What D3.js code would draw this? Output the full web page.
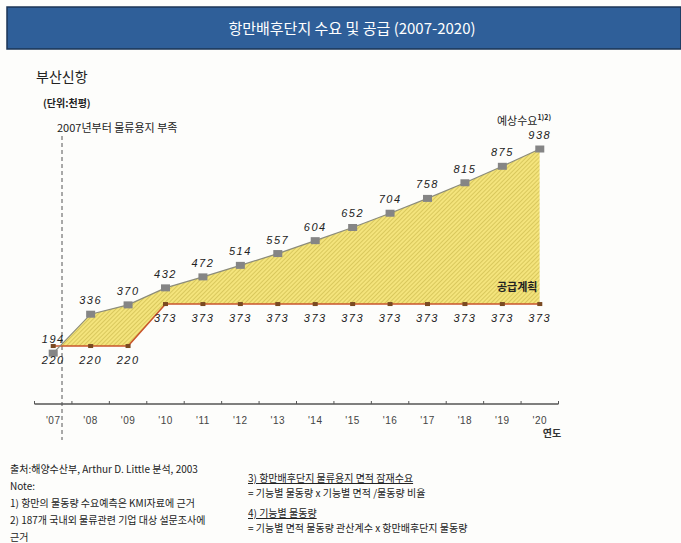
<!DOCTYPE html>
<html><head><meta charset="utf-8">
<script src="https://cdn.jsdelivr.net/npm/d3@7"></script>
<style>
body{margin:0;background:#fff}
svg{display:block}
text{font-family:"Liberation Sans","Noto Sans CJK KR",sans-serif}
</style>
</head><body>
<svg id="c" width="681" height="543"></svg>
<script>
// ---- data ----
const years = [2007,2008,2009,2010,2011,2012,2013,2014,2015,2016,2017,2018,2019,2020];
const tickLabels = ["'07","'08","'09","'10","'11","'12","'13","'14","'15","'16","'17","'18","'19","'20"];
const demand = [194,336,370,432,472,514,557,604,652,704,758,815,875,938];
const supply = [220,220,220,373,373,373,373,373,373,373,373,373,373,373];
const titleText = "항만배후단지 수요 및 공급 (2007-2020)";
const subTitle = "부산신항";
const unitText = "(단위:천평)";
const shortageText = "2007년부터 물류용지 부족";
const demandLabel = "예상수요";
const demandSup = "1)2)";
const supplyLabel = "공급계획";
const axisTitle = "연도";
const notesLeft = ["출처:해양수산부, Arthur D. Little 분석, 2003","Note:","1) 항만의 물동량 수요예측은 KMI자료에 근거","2) 187개 국내외 물류관련 기업 대상 설문조사에","근거"];
const notesRight = [
  {t:"3) 항만배후단지  물류용지 면적 잠재수요", u:true},
  {t:"= 기능별 물동량 x 기능별 면적 /물동량 비율", u:false},
  {t:"4) 기능별 물동량", u:true},
  {t:"= 기능별 면적 물동량 관산계수 x 항만배후단지 물동량", u:false}
];

const svg = d3.select("#c");
const W = 681, H = 543;
svg.append("rect").attr("width",W).attr("height",H).attr("fill","#fdfdfb");

// pattern
const defs = svg.append("defs");
const pat = defs.append("pattern").attr("id","hatch").attr("patternUnits","userSpaceOnUse")
  .attr("width",3).attr("height",3).attr("patternTransform","rotate(45)");
pat.append("rect").attr("width",3).attr("height",3).attr("fill","#f4e47c");
pat.append("line").attr("x1",0).attr("y1",0).attr("x2",0).attr("y2",3)
  .attr("stroke","#c8b548").attr("stroke-width",1.2);

// title bar
svg.append("rect").attr("x",7).attr("y",7).attr("width",W-7).attr("height",42)
  .attr("fill","#2f5f99").attr("stroke","#1b3455").attr("stroke-width",1.5);
svg.append("text").attr("x",352).attr("y",34).attr("text-anchor","middle")
  .attr("fill","#fff").style("font-size","15px")
  .style("font-family","'Liberation Sans Narrow','Noto Sans CJK KR',sans-serif")
  .text(titleText);

// header texts
svg.append("text").attr("x",36).attr("y",82).attr("fill","#222").style("font-size","14px")
  .style("font-family","'Noto Sans CJK KR',sans-serif").text(subTitle);
svg.append("text").attr("x",43).attr("y",107).attr("fill","#222").style("font-size","10px")
  .style("font-weight","bold").style("font-family","'Noto Sans CJK KR',sans-serif").text(unitText);
svg.append("text").attr("x",57).attr("y",132).attr("fill","#222").style("font-size","11px")
  .style("font-family","'Noto Sans CJK KR',sans-serif").text(shortageText);

// scales
const x = d3.scaleBand().domain(years).range([34.5,558.5]).padding(0);
const cx = d => x(d) + x.bandwidth()/2;
const y = d3.scaleLinear().domain([0,1000]).range([406.4,132]);

const pts = years.map((yr,i)=>({yr, d:demand[i], s:supply[i]}));

// clip: region above supply line
const clipArea = d3.area().x(p=>cx(p.yr)).y0(0).y1(p=>y(p.s));
defs.append("clipPath").attr("id","aboveSupply").append("path").attr("d",clipArea(pts));
const fillArea = d3.area().x(p=>cx(p.yr)).y0(y(0)).y1(p=>y(p.d));
svg.append("path").attr("d",fillArea(pts)).attr("fill","url(#hatch)").attr("clip-path","url(#aboveSupply)");

// dashed vertical line
svg.append("line").attr("x1",62).attr("x2",62).attr("y1",136).attr("y2",440)
  .attr("stroke","#555").attr("stroke-width",1).attr("stroke-dasharray","4,3");

// axis
const axisY = 404;
svg.append("line").attr("x1",x.range()[0]).attr("x2",x.range()[1]).attr("y1",axisY).attr("y2",axisY)
  .attr("stroke","#555").attr("stroke-width",1.5);
const bounds = years.map(yr=>x(yr)).concat([x.range()[1]]);
svg.selectAll(".tk").data(bounds).enter().append("line")
  .attr("x1",d=>d).attr("x2",d=>d).attr("y1",axisY-3).attr("y2",axisY)
  .attr("stroke","#555").attr("stroke-width",1);
svg.selectAll(".tl").data(years).enter().append("text")
  .attr("x",d=>cx(d)).attr("y",axisY+20).attr("text-anchor","middle")
  .attr("fill","#444").style("font-size","10px").style("letter-spacing","0.5px")
  .text((d,i)=>tickLabels[i]);
svg.append("text").attr("x",552).attr("y",437).attr("text-anchor","middle").attr("fill","#333")
  .style("font-size","10px").style("font-weight","bold").style("font-family","'Noto Sans CJK KR',sans-serif").text(axisTitle);

// supply line
const sLine = d3.line().x(p=>cx(p.yr)).y(p=>y(p.s));
svg.append("path").attr("d",sLine(pts)).attr("fill","none").attr("stroke","#c9562c").attr("stroke-width",1.6);
svg.selectAll(".sm").data(pts).enter().append("rect")
  .attr("x",p=>cx(p.yr)-2.5).attr("y",p=>y(p.s)-2).attr("width",5).attr("height",4).attr("fill","#7a4a22");

// demand line
const dLine = d3.line().x(p=>cx(p.yr)).y(p=>y(p.d));
svg.append("path").attr("d",dLine(pts)).attr("fill","none").attr("stroke","#8c8c7a").attr("stroke-width",1.2);
svg.selectAll(".dm").data(pts).enter().append("rect")
  .attr("x",p=>cx(p.yr)-4.5).attr("y",p=>y(p.d)-3.5).attr("width",9).attr("height",7).attr("fill","#858585");

// value labels
svg.selectAll(".dl").data(pts).enter().append("text")
  .attr("x",p=>cx(p.yr)).attr("y",p=>y(p.d)-10).attr("text-anchor","middle")
  .attr("fill","#222").style("font-size","11px").style("font-style","italic").style("letter-spacing","1.5px")
  .text(p=>p.d);
svg.selectAll(".sl").data(pts).enter().append("text")
  .attr("x",p=>cx(p.yr)).attr("y",p=>y(p.s)+18).attr("text-anchor","middle")
  .attr("fill","#222").style("font-size","11px").style("font-style","italic").style("letter-spacing","1.5px")
  .text(p=>p.s);

// series labels
const dl = svg.append("text").attr("x",497).attr("y",125).attr("fill","#222").style("font-size","11px")
  .style("font-family","'Noto Sans CJK KR',sans-serif");
dl.append("tspan").text(demandLabel);
dl.append("tspan").attr("dy",-5).style("font-size","7px").style("font-weight","bold").text(demandSup);
svg.append("text").attr("x",497).attr("y",291).attr("fill","#222").style("font-size","11px")
  .style("font-weight","bold").style("font-family","'Noto Sans CJK KR',sans-serif").text(supplyLabel);

// notes
svg.selectAll(".nl").data(notesLeft).enter().append("text")
  .attr("x",10).attr("y",(d,i)=>473+i*17).attr("fill","#222").style("font-size","10px")
  .style("font-family","'Liberation Sans Narrow','Noto Sans CJK KR',sans-serif").text(d=>d);
const nr = svg.selectAll(".nr").data(notesRight).enter().append("text")
  .attr("x",248).attr("y",(d,i)=>[482,497,517,532][i]).attr("fill","#222").style("font-size","10px")
  .style("font-family","'Liberation Sans Narrow','Noto Sans CJK KR',sans-serif")
  .style("text-decoration",d=>d.u?"underline":"none").text(d=>d.t);
</script>
</body></html>
